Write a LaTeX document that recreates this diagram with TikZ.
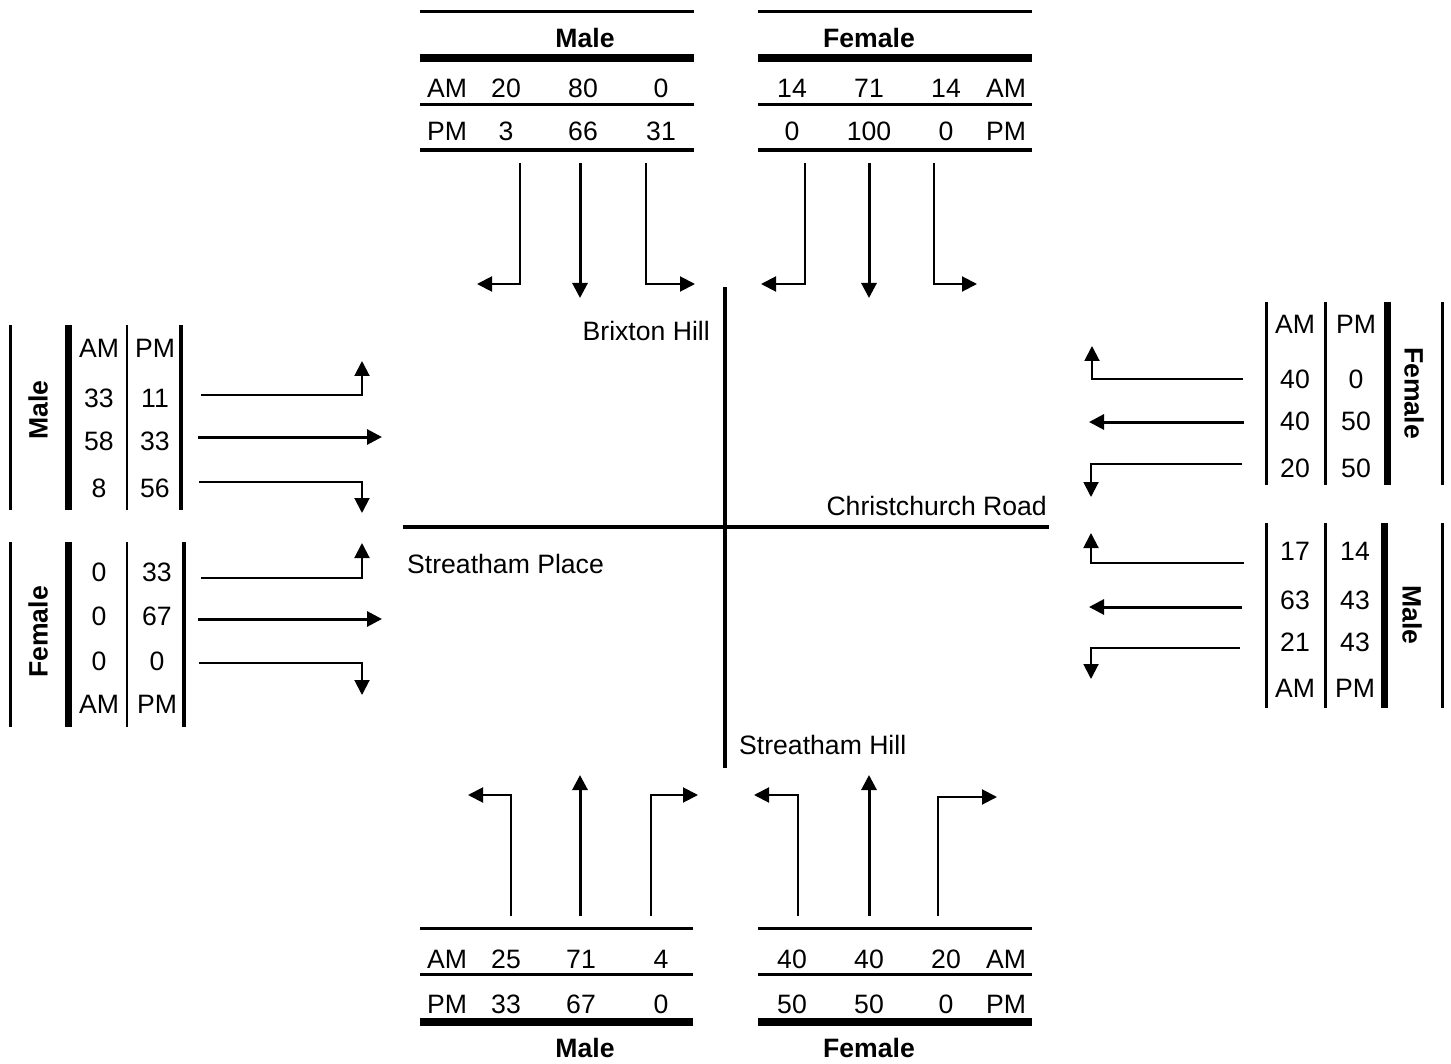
\documentclass[tikz,border=0pt]{standalone}
\usepackage{fontspec}
\setmainfont{Liberation Sans}
\usetikzlibrary{arrows.meta}
\begin{document}
\begin{tikzpicture}[x=1pt,y=-1pt,
 txt/.style={inner sep=0pt,font=\fontsize{26.6}{30}\selectfont,text height=19pt,text depth=0pt},
 hdr/.style={inner sep=0pt,font=\fontsize{26.6}{30}\selectfont\bfseries,text height=19pt,text depth=0pt},
 rulethin/.style={line width=3pt},
 rulemid/.style={line width=3.5pt},
 rulethick/.style={line width=7.5pt},
 turnarrow/.style={line width=2pt,-{Triangle[length=15pt,width=15pt]}},
 thruarrow/.style={line width=3pt,-{Triangle[length=15pt,width=15pt]}},
 road/.style={line width=4pt}]
\useasboundingbox (0,0) rectangle (1451,1064);

% ---------- top Male table ----------
\draw[rulethin] (420,12) -- (694,12);
\node[hdr] (tmH) at (585,38) {Male};
\draw[rulethick] (420,58) -- (694,58);
\node[txt] (tmA0) at (447,88) {AM};
\node[txt] (tmA1) at (506,88) {20};
\node[txt] (tmA2) at (583,88) {80};
\node[txt] (tmA3) at (661,88) {0};
\draw[rulethin] (420,105) -- (694,105);
\node[txt] (tmP0) at (447,131) {PM};
\node[txt] (tmP1) at (506,131) {3};
\node[txt] (tmP2) at (583,131) {66};
\node[txt] (tmP3) at (661,131) {31};
\draw[rulemid] (420,150) -- (694,150);

% ---------- top Female table ----------
\draw[rulethin] (758,12) -- (1032,12);
\node[hdr] (tfH) at (869,38) {Female};
\draw[rulethick] (758,58) -- (1032,58);
\node[txt] (tfA1) at (792,88) {14};
\node[txt] (tfA2) at (869,88) {71};
\node[txt] (tfA3) at (946,88) {14};
\node[txt] (tfA0) at (1006,88) {AM};
\draw[rulethin] (758,105) -- (1032,105);
\node[txt] (tfP1) at (792,131) {0};
\node[txt] (tfP2) at (869,131) {100};
\node[txt] (tfP3) at (946,131) {0};
\node[txt] (tfP0) at (1006,131) {PM};
\draw[rulemid] (758,150) -- (1032,150);

% ---------- top arrows ----------
\draw[turnarrow] (520,163) -- (520,284) -- (477,284);
\draw[thruarrow] (580,163) -- (580,298);
\draw[turnarrow] (646,163) -- (646,284) -- (695,284);
\draw[turnarrow] (805,163) -- (805,284) -- (761,284);
\draw[thruarrow] (869,163) -- (869,298);
\draw[turnarrow] (934,163) -- (934,284) -- (977,284);

% ---------- roads ----------
\draw[road] (725,287) -- (725,768);
\draw[road] (403,527) -- (1049,527);
\node[txt,anchor=east] (bh) at (710,331) {Brixton Hill};
\node[txt,anchor=east] (cr) at (1047,506) {Christchurch Road};
\node[txt,anchor=west] (sp) at (407,564) {Streatham Place};
\node[txt,anchor=west] (sh) at (739,745) {Streatham Hill};

% ---------- left Male table ----------
\draw[rulethin] (10,325) -- (10,510);
\draw[line width=7pt] (68,325) -- (68,510);
\draw[line width=2.5pt] (127,325) -- (127,510);
\draw[rulemid] (181,325) -- (181,510);
\node[hdr,rotate=90] (lmH) at (38,410) {Male};
\node[txt] (lmA) at (99,348) {AM};
\node[txt] (lmP) at (155,348) {PM};
\node[txt] (lm11) at (99,398) {33};
\node[txt] (lm12) at (155,398) {11};
\node[txt] (lm21) at (99,441) {58};
\node[txt] (lm22) at (155,441) {33};
\node[txt] (lm31) at (99,488) {8};
\node[txt] (lm32) at (155,488) {56};
\draw[turnarrow] (201,395) -- (362,395) -- (362,361);
\draw[thruarrow] (198,437) -- (382,437);
\draw[turnarrow] (199,482) -- (362,482) -- (362,513);

% ---------- left Female table ----------
\draw[rulethin] (10,542) -- (10,727);
\draw[line width=7pt] (68,542) -- (68,727);
\draw[line width=2.5pt] (127,542) -- (127,727);
\draw[rulemid] (184,542) -- (184,727);
\node[hdr,rotate=90] (lfH) at (38,632) {Female};
\node[txt] (lf11) at (99,572) {0};
\node[txt] (lf12) at (157,572) {33};
\node[txt] (lf21) at (99,616) {0};
\node[txt] (lf22) at (157,616) {67};
\node[txt] (lf31) at (99,661) {0};
\node[txt] (lf32) at (157,661) {0};
\node[txt] (lfA) at (99,704) {AM};
\node[txt] (lfP) at (157,704) {PM};
\draw[turnarrow] (201,578) -- (362,578) -- (362,543);
\draw[thruarrow] (198,619) -- (382,619);
\draw[turnarrow] (199,663) -- (362,663) -- (362,695);

% ---------- right Female table ----------
\draw[rulethin] (1266,302) -- (1266,485);
\draw[rulethin] (1325,302) -- (1325,485);
\draw[line width=7pt] (1387,302) -- (1387,485);
\draw[rulethin] (1442,302) -- (1442,485);
\node[hdr,rotate=-90] (rfH) at (1414,393) {Female};
\node[txt] (rfA) at (1295,324) {AM};
\node[txt] (rfP) at (1356,324) {PM};
\node[txt] (rf11) at (1295,379) {40};
\node[txt] (rf12) at (1356,379) {0};
\node[txt] (rf21) at (1295,421) {40};
\node[txt] (rf22) at (1356,421) {50};
\node[txt] (rf31) at (1295,468) {20};
\node[txt] (rf32) at (1356,468) {50};
\draw[turnarrow] (1243,379) -- (1092,379) -- (1092,346);
\draw[thruarrow] (1244,422) -- (1089,422);
\draw[turnarrow] (1242,464) -- (1091,464) -- (1091,497);

% ---------- right Male table ----------
\draw[rulethin] (1266,523) -- (1266,708);
\draw[rulethin] (1325,523) -- (1325,708);
\draw[line width=7pt] (1384,523) -- (1384,708);
\draw[rulethin] (1442,523) -- (1442,708);
\node[hdr,rotate=-90] (rmH) at (1412,615) {Male};
\node[txt] (rm11) at (1295,551) {17};
\node[txt] (rm12) at (1355,551) {14};
\node[txt] (rm21) at (1295,600) {63};
\node[txt] (rm22) at (1355,600) {43};
\node[txt] (rm31) at (1295,642) {21};
\node[txt] (rm32) at (1355,642) {43};
\node[txt] (rmA) at (1295,688) {AM};
\node[txt] (rmP) at (1355,688) {PM};
\draw[turnarrow] (1244,563) -- (1091,563) -- (1091,533);
\draw[thruarrow] (1242,607) -- (1089,607);
\draw[turnarrow] (1240,648) -- (1091,648) -- (1091,679);

% ---------- bottom arrows ----------
\draw[turnarrow] (511,916) -- (511,795) -- (468,795);
\draw[thruarrow] (580,916) -- (580,775);
\draw[turnarrow] (651,916) -- (651,795) -- (698,795);
\draw[turnarrow] (798,916) -- (798,795) -- (754,795);
\draw[thruarrow] (869,916) -- (869,775);
\draw[turnarrow] (938,916) -- (938,797) -- (997,797);

% ---------- bottom Male table ----------
\draw[rulethin] (420,928) -- (693,928);
\node[txt] (bmA0) at (447,959) {AM};
\node[txt] (bmA1) at (506,959) {25};
\node[txt] (bmA2) at (581,959) {71};
\node[txt] (bmA3) at (661,959) {4};
\draw[rulethin] (420,974) -- (693,974);
\node[txt] (bmP0) at (447,1004) {PM};
\node[txt] (bmP1) at (506,1004) {33};
\node[txt] (bmP2) at (581,1004) {67};
\node[txt] (bmP3) at (661,1004) {0};
\draw[rulethick] (420,1022) -- (693,1022);
\node[hdr] (bmH) at (585,1048) {Male};

% ---------- bottom Female table ----------
\draw[rulethin] (758,928) -- (1032,928);
\node[txt] (bfA1) at (792,959) {40};
\node[txt] (bfA2) at (869,959) {40};
\node[txt] (bfA3) at (946,959) {20};
\node[txt] (bfA0) at (1006,959) {AM};
\draw[rulethin] (758,974) -- (1032,974);
\node[txt] (bfP1) at (792,1004) {50};
\node[txt] (bfP2) at (869,1004) {50};
\node[txt] (bfP3) at (946,1004) {0};
\node[txt] (bfP0) at (1006,1004) {PM};
\draw[rulethick] (758,1022) -- (1032,1022);
\node[hdr] (bfH) at (869,1048) {Female};
\end{tikzpicture}
\end{document}
